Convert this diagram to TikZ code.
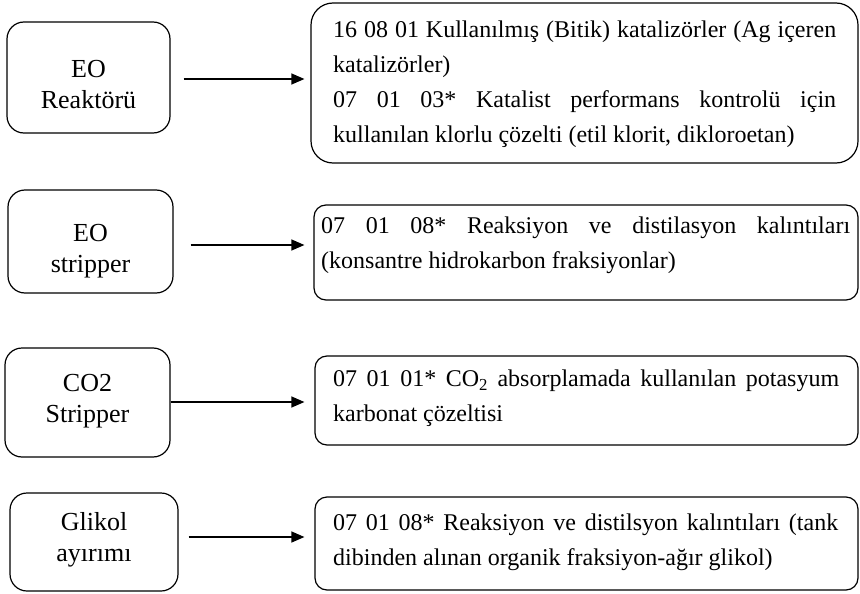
\documentclass[tikz,border=0pt]{standalone}
\usepackage{fontspec}
\setmainfont{Liberation Serif}
\usetikzlibrary{arrows.meta,calc}

\begin{document}
\begin{tikzpicture}[x=1pt,y=-1pt,
  unit/.style={draw, line width=1.2pt, rounded corners=17pt, inner sep=0pt},
  utext/.style={align=center, inner sep=0pt, font=\fontsize{26}{31}\selectfont},
  waste/.style={draw, line width=1.2pt, rounded corners=12pt, inner sep=0pt},
  wtext/.style={anchor=north west, inner sep=0pt, align=justify,
    font=\fontsize{24}{35}\selectfont,
    execute at begin node={\hyphenpenalty=10000\tolerance=10000\hbadness=10000}},
  flow/.style={line width=1.2pt, -{Triangle[length=13pt,width=11pt]}}]
\useasboundingbox (0,0) rectangle (860,594);

% process units
\node[unit, minimum width=163pt, minimum height=111pt] (L1) at (88.5,77.5) {};
\node[unit, minimum width=165pt, minimum height=103pt] (L2) at (90.5,241.5) {};
\node[unit, minimum width=165pt, minimum height=109pt] (L3) at (87.5,402.5) {};
\node[unit, minimum width=168pt, minimum height=98pt]  (L4) at (94,542) {};
\node[utext] (L1t) at ($(L1.center)+(0,7)$) {EO\\Reaktörü};
\node[utext] (L2t) at ($(L2.center)+(0,10)$) {EO\\stripper};
\node[utext] (L3t) at ($(L3.center)+(0,-1)$) {CO2\\Stripper};
\node[utext] (L4t) at ($(L4.center)+(0,-2)$) {Glikol\\ayırımı};

% waste boxes
\node[waste, rounded corners=22pt, minimum width=547pt, minimum height=160pt] (R1) at (584.5,83) {};
\node[waste, minimum width=544pt, minimum height=95pt] (R2) at (586,252.5) {};
\node[waste, minimum width=543pt, minimum height=89pt] (R3) at (586.5,400.5) {};
\node[waste, minimum width=543pt, minimum height=93pt] (R4) at (586.5,543.5) {};

% waste descriptions
\node[wtext, text width=503pt] (T1) at (333,21)
  {16 08 01 Kullanılmış (Bitik) katalizörler (Ag içeren\linebreak katalizörler)\\
   07 01 03* Katalist performans kontrolü için\linebreak kullanılan klorlu çözelti (etil klorit, dikloroetan)};
\node[wtext, text width=529pt] (T2) at (321,217)
  {07 01 08* Reaksiyon ve distilasyon kalıntıları\linebreak (konsantre hidrokarbon fraksiyonlar)};
\node[wtext, text width=506pt] (T3) at (333,370)
  {07 01 01* CO\textsubscript{2} absorplamada kullanılan potasyum\linebreak karbonat çözeltisi};
\node[wtext, text width=505pt] (T4) at (333,514)
  {07 01 08* Reaksiyon ve distilsyon kalıntıları (tank\linebreak dibinden alınan organik fraksiyon-ağır glikol)};

% flows
\draw[flow] ($(L1.east)+(13,1.5)$) coordinate (a1) -- ($(a1 -| R1.west)+(-6,0)$);
\draw[flow] ($(L2.east)+(17,3.5)$) coordinate (a2) -- ($(a2 -| R2.west)+(-9,0)$);
\draw[flow] ($(L3.east)+(0,-0.5)$) coordinate (a3) -- ($(a3 -| R3.west)+(-10,0)$);
\draw[flow] ($(L4.east)+(10,-5)$) coordinate (a4) -- ($(a4 -| R4.west)+(-10,0)$);
\end{tikzpicture}
\end{document}
